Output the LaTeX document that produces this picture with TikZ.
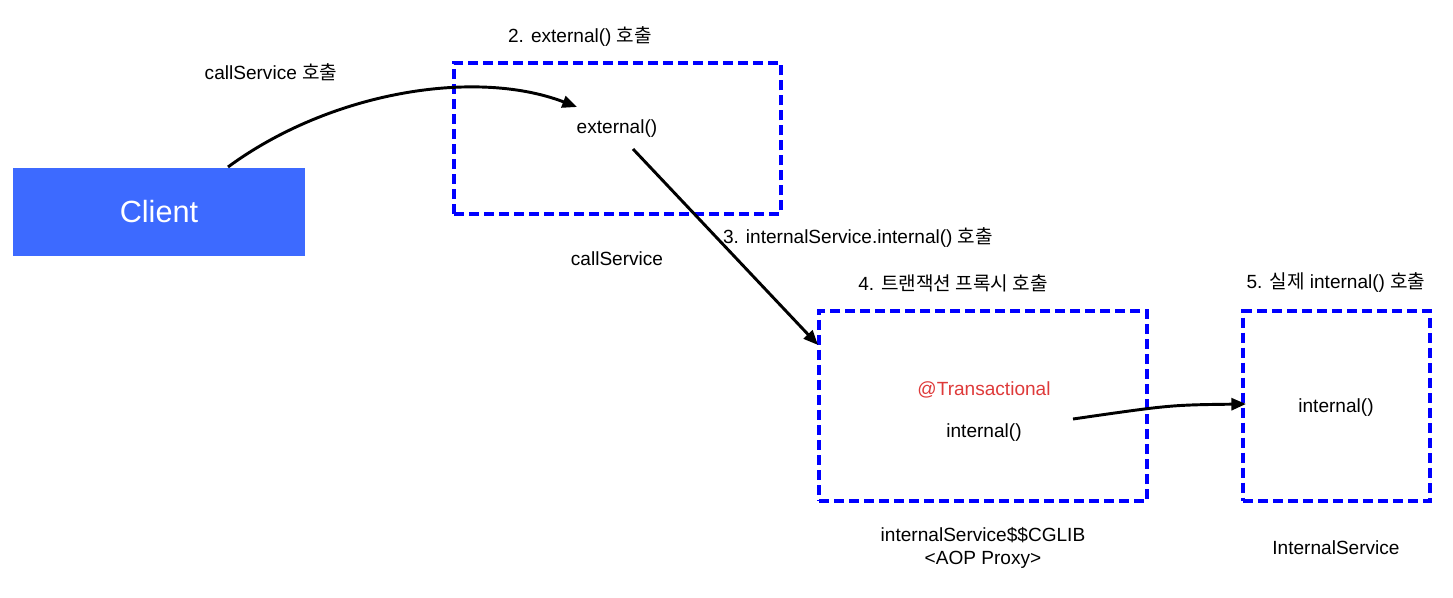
\documentclass[tikz,border=0pt]{standalone}
\usepackage{fontspec}
\setmainfont{Liberation Sans}
\newfontfamily\kr{Noto Sans CJK KR}
\usetikzlibrary{arrows.meta}
\definecolor{clientblue}{RGB}{61,106,255}
\definecolor{tred}{RGB}{222,58,58}
\tikzset{
  dbox/.style={draw={rgb,255:red,0;green,0;blue,255}, line width=3pt, dash pattern=on 7.5pt off 3.75pt},
  lbl/.style={font=\fontsize{14.3pt}{17pt}\selectfont, inner sep=0pt, align=center},
  arr/.style={line width=2.2pt, -{Triangle[length=11pt,width=9pt]}},
}
\begin{document}
\begin{tikzpicture}[x=0.75pt,y=-0.75pt]
\useasboundingbox (0,0) rectangle (1453,598);
% Client
\node[fill=clientblue, minimum width=219pt, minimum height=66pt, inner sep=0pt, text=white, font=\fontsize{23pt}{27pt}\selectfont] (client) at (159,212) {Client};
% boxes
\node[dbox, minimum width=245pt, minimum height=113pt, inner sep=0pt] (ext) at (617.5,138.5) {};
\node[dbox, minimum width=246pt, minimum height=142.5pt, inner sep=0pt] (proxy) at (983,406) {};
\node[dbox, minimum width=140pt, minimum height=142.5pt, inner sep=0pt] (real) at (1336.5,406) {};
% labels
\node[lbl] (l1) at (271,72) {callService {\kr 호출}};
\node[lbl] (l2) at (580,37) {2. external() {\kr 호출}};
\node[lbl] (lext) at (617,129) {external()};
\node[lbl] (l3) at (858,238) {3. internalService.internal() {\kr 호출}};
\node[lbl] (lcs) at (617,259) {callService};
\node[lbl] (l4) at (953,283) {4. {\kr 트랜잭션 프록시 호출}};
\node[lbl] (l5) at (1336,283) {5. {\kr 실제} internal() {\kr 호출}};
\node[lbl, text=tred] (ltx) at (984,390) {@Transactional};
\node[lbl] (lint) at (984,433) {internal()};
\node[lbl] (lint2) at (1336,408) {internal()};
\node[lbl] (lcg) at (983,548) {internalService\$\$CGLIB\\[0pt]<AOP Proxy>};
\node[lbl] (lis) at (1336,548) {InternalService};
% arrow endpoints
\coordinate (a1s) at (228,167);
\coordinate (a1e) at (577,107);
\coordinate (a2s) at (633,149);
\coordinate (a2e) at (818,345);
\coordinate (a3s) at (1073,419);
\coordinate (a3e) at (1246,404);
\draw[arr] (a1s) .. controls (330,92) and (475,68) .. (a1e);
\draw[arr] (a2s) -- (a2e);
\draw[arr] (a3s) .. controls (1170,405) .. (a3e);
\end{tikzpicture}
\end{document}
